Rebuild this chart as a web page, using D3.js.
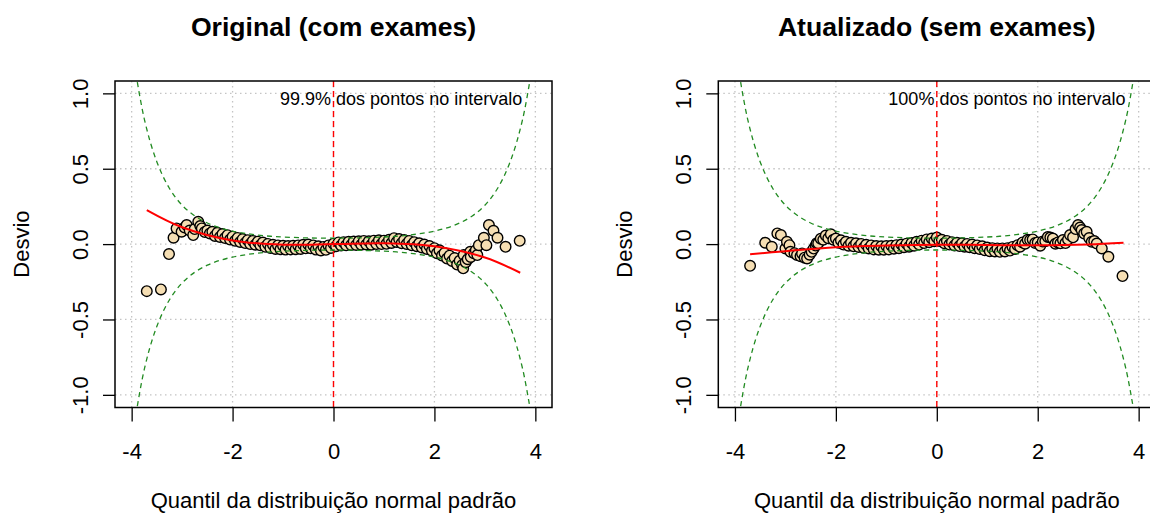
<!DOCTYPE html>
<html>
<head>
<meta charset="utf-8">
<script src="https://cdn.jsdelivr.net/npm/d3@7"></script>
<style>
  body { margin: 0; background: #fff; }
  text { font-family: "Liberation Sans", Arial, sans-serif; }
</style>
</head>
<body>
<svg id="vis" width="1150" height="516"></svg>
<script>
// ---- data ----
const xTicks = [-4, -2, 0, 2, 4];
const yTicks = [-1, -0.5, 0, 0.5, 1];
const titles = ['Original (com exames)', 'Atualizado (sem exames)'];
const notes = ['99.9% dos pontos no intervalo', '100% dos pontos no intervalo'];
const xLabel = 'Quantil da distribuição normal padrão';
const yLabel = 'Desvio';

// confidence band (upper edge; lower is the mirror)
const bandX = [-4.0, -3.75, -3.5, -3.25, -3.0, -2.75, -2.5, -2.25, -2.0, -1.75, -1.5, -1.25, -1.0, -0.5, 0,
  0.5, 1.0, 1.25, 1.5, 1.75, 2.0, 2.25, 2.5, 2.75, 3.0, 3.25, 3.5, 3.75, 4.0];
const bandUpper = [1.310, 0.831, 0.545, 0.369, 0.258, 0.187, 0.140, 0.108, 0.086, 0.071, 0.060, 0.052, 0.047, 0.041, 0.039,
  0.041, 0.047, 0.052, 0.060, 0.071, 0.086, 0.108, 0.140, 0.187, 0.258, 0.369, 0.545, 0.831, 1.310];

// fitted red curves
const fitX = [-3.7, -3, -2, -1, 0, 1, 2, 3, 3.7];
const fitOrig = [0.226, 0.112, 0.024, -0.004, 0, 0.006, -0.014, -0.089, -0.19];
const fitAtual = [-0.068, -0.047, -0.021, -0.01, -0.004, -0.006, -0.008, -0.002, 0.009];

// worm points [quantile, deviation]
const ptsOrig = [
  [-3.70, -0.312], [-3.42, -0.301], [-3.26, -0.066], [-3.17, 0.042], [-3.11, 0.104], [-3.01, 0.082],
  [-2.95, 0.110], [-2.91, 0.126], [-2.85, 0.090], [-2.78, 0.060], [-2.75, 0.100], [-2.68, 0.148],
  [-2.64, 0.120], [-2.61, 0.104], [-2.55, 0.080], [-2.50, 0.090], [-2.45, 0.071],
  [-2.40, 0.082], [-2.35, 0.054], [-2.30, 0.075], [-2.25, 0.047], [-2.20, 0.067], [-2.15, 0.040],
  [-2.10, 0.059], [-2.05, 0.030], [-2.00, 0.049], [-1.95, 0.022], [-1.90, 0.041], [-1.85, 0.014],
  [-1.80, 0.033], [-1.75, 0.007], [-1.70, 0.026], [-1.65, 0.000], [-1.60, 0.021], [-1.55, -0.004],
  [-1.50, 0.016], [-1.45, -0.008], [-1.40, 0.010], [-1.35, -0.018], [-1.30, 0.001], [-1.25, -0.026],
  [-1.20, -0.005], [-1.15, -0.032], [-1.10, -0.009], [-1.05, -0.034], [-1.00, -0.011], [-0.95, -0.036],
  [-0.90, -0.013], [-0.85, -0.035], [-0.80, -0.011], [-0.75, -0.034], [-0.70, -0.009], [-0.65, -0.032],
  [-0.60, -0.005], [-0.55, -0.028], [-0.50, -0.003], [-0.45, -0.028], [-0.40, -0.009], [-0.35, -0.036],
  [-0.30, -0.015], [-0.25, -0.042], [-0.20, -0.019], [-0.15, -0.038], [-0.10, -0.009], [-0.05, -0.026],
  [0.00, 0.003], [0.05, -0.014], [0.10, 0.011], [0.15, -0.010], [0.20, 0.013], [0.25, -0.008],
  [0.30, 0.015], [0.35, -0.006], [0.40, 0.017], [0.45, -0.006], [0.50, 0.019], [0.55, -0.004],
  [0.60, 0.021], [0.65, -0.002], [0.70, 0.019], [0.75, -0.004], [0.80, 0.023], [0.85, 0.000],
  [0.90, 0.025], [0.95, 0.000], [1.00, 0.023], [1.05, 0.002], [1.10, 0.029], [1.15, 0.008],
  [1.20, 0.039], [1.25, 0.014], [1.30, 0.033], [1.35, 0.006], [1.40, 0.027], [1.45, 0.000],
  [1.50, 0.021], [1.55, -0.008], [1.60, 0.013], [1.65, -0.014], [1.70, 0.005], [1.75, -0.022],
  [1.80, -0.003], [1.85, -0.032], [1.90, -0.013], [1.95, -0.044], [2.00, -0.027], [2.05, -0.060],
  [2.10, -0.041], [2.15, -0.076], [2.20, -0.059], [2.25, -0.096], [2.30, -0.077], [2.35, -0.112],
  [2.40, -0.093], [2.45, -0.136], [2.50, -0.111], [2.55, -0.140], [2.57, -0.161], [2.58, -0.073],
  [2.62, -0.120], [2.66, -0.100], [2.71, -0.051], [2.72, -0.085], [2.78, -0.060], [2.82, -0.040],
  [2.85, -0.073], [2.88, -0.007], [2.98, 0.042], [3.03, -0.007], [3.08, 0.126], [3.17, 0.088],
  [3.25, 0.042], [3.41, -0.018], [3.69, 0.022]
];

const ptsAtual = [
  [-3.70, -0.144], [-3.40, 0.009], [-3.27, -0.018], [-3.16, 0.071], [-3.09, 0.060], [-3.00, -0.029],
  [-2.97, 0.015], [-2.92, -0.007], [-2.90, -0.051], [-2.82, -0.060], [-2.77, -0.073], [-2.70, -0.080],
  [-2.67, -0.062], [-2.62, -0.090], [-2.57, -0.095], [-2.52, -0.070], [-2.48, -0.051], [-2.44, -0.030],
  [-2.40, -0.010], [-2.38, 0.005],
  [-2.35, 0.005], [-2.30, 0.035], [-2.25, 0.029], [-2.20, 0.057], [-2.15, 0.039], [-2.10, 0.065],
  [-2.05, 0.029], [-2.00, 0.037], [-1.95, 0.009], [-1.90, 0.025], [-1.85, -0.003], [-1.80, 0.015],
  [-1.75, -0.011], [-1.70, 0.009], [-1.65, -0.015], [-1.60, 0.005], [-1.55, -0.019], [-1.50, 0.001],
  [-1.45, -0.025], [-1.40, -0.005], [-1.35, -0.029], [-1.30, -0.009], [-1.25, -0.035], [-1.20, -0.013],
  [-1.15, -0.037], [-1.10, -0.015], [-1.05, -0.037], [-1.00, -0.013], [-0.95, -0.035], [-0.90, -0.011],
  [-0.85, -0.031], [-0.80, -0.007], [-0.75, -0.027], [-0.70, -0.003], [-0.65, -0.021], [-0.60, 0.003],
  [-0.55, -0.017], [-0.50, 0.007], [-0.45, -0.011], [-0.40, 0.015], [-0.35, -0.003], [-0.30, 0.023],
  [-0.25, 0.007], [-0.20, 0.031], [-0.15, 0.013], [-0.10, 0.037], [-0.05, 0.019], [0.00, 0.043],
  [0.05, 0.021], [0.10, 0.029], [0.15, 0.005], [0.20, 0.021], [0.25, -0.003], [0.30, 0.013],
  [0.35, -0.009], [0.40, 0.009], [0.45, -0.013], [0.50, 0.005], [0.55, -0.017], [0.60, 0.001],
  [0.65, -0.021], [0.70, -0.003], [0.75, -0.027], [0.80, -0.009], [0.85, -0.033], [0.90, -0.015],
  [0.95, -0.041], [1.00, -0.023], [1.05, -0.047], [1.10, -0.027], [1.15, -0.049], [1.20, -0.029],
  [1.25, -0.051], [1.30, -0.029], [1.35, -0.049], [1.40, -0.027], [1.45, -0.043], [1.50, -0.019],
  [1.55, -0.033], [1.60, -0.007], [1.65, -0.017], [1.70, 0.011], [1.75, 0.003], [1.80, 0.029],
  [1.85, 0.027], [1.90, 0.031], [1.95, 0.007], [2.00, 0.011], [2.05, -0.011], [2.10, 0.017],
  [2.15, 0.019], [2.20, 0.047], [2.25, 0.043], [2.30, 0.037], [2.35, 0.003], [2.40, 0.011],
  [2.45, 0.005], [2.50, 0.027], [2.55, 0.007], [2.60, 0.030], [2.64, 0.060], [2.70, 0.045],
  [2.75, 0.100], [2.80, 0.126], [2.84, 0.110], [2.87, 0.093], [2.92, 0.070], [2.97, 0.082],
  [3.02, 0.040], [3.07, 0.015], [3.12, 0.020], [3.17, 0.004], [3.27, -0.029], [3.40, -0.084],
  [3.68, -0.212]
];

// ---- layout ----
const boxTop = 81;
const boxBottom = 407.5;
const boxW = 437;
const baseFont = 22;

let svg = d3.select('#vis');
svg.append('rect').attr('width', 1150).attr('height', 516).attr('fill', '#fff');
let defs = svg.append('defs');

createPanel({ id: 'p1', left: 115, title: titles[0], note: notes[0], pts: ptsOrig, fit: fitOrig });
createPanel({ id: 'p2', left: 718.3, title: titles[1], note: notes[1], pts: ptsAtual, fit: fitAtual });

function createPanel(info) {
  let left = info.left;
  let x = d3.scaleLinear().domain([-4.33, 4.33]).range([left, left + boxW]);
  let y = d3.scaleLinear().domain([-1.084, 1.082]).range([boxBottom, boxTop]);
  let cx = (left + left + boxW) / 2;

  defs.append('clipPath').attr('id', `${info.id}-clip`)
    .append('rect')
    .attr('x', left).attr('y', boxTop)
    .attr('width', boxW).attr('height', boxBottom - boxTop);

  let g = svg.append('g');

  // grid
  let grid = g.append('g').attr('class', 'grid')
    .attr('stroke', '#c4c4c4').attr('stroke-width', 1.3).attr('stroke-dasharray', '1.5,3.5');
  grid.selectAll('.gx').data(xTicks).enter().append('line')
    .attr('x1', (d) => x(d)).attr('x2', (d) => x(d))
    .attr('y1', boxTop).attr('y2', boxBottom);
  grid.selectAll('.gy').data(yTicks).enter().append('line')
    .attr('x1', left).attr('x2', left + boxW)
    .attr('y1', (d) => y(d)).attr('y2', (d) => y(d));

  let inner = g.append('g').attr('clip-path', `url(#${info.id}-clip)`);

  // points
  inner.append('g').selectAll('circle')
    .data(info.pts)
    .enter().append('circle')
    .attr('cx', (d) => x(d[0]))
    .attr('cy', (d) => y(d[1]))
    .attr('r', 5.3)
    .attr('fill', '#f5deb3')
    .attr('stroke', '#000')
    .attr('stroke-width', 1.4);

  // band
  let band = bandX.map((v, i) => ({ q: v, u: bandUpper[i] }));
  let upperLine = d3.line().x((d) => x(d.q)).y((d) => y(d.u)).curve(d3.curveCatmullRom);
  let lowerLine = d3.line().x((d) => x(d.q)).y((d) => y(-d.u)).curve(d3.curveCatmullRom);
  [upperLine, lowerLine].forEach((ln) => {
    inner.append('path')
      .datum(band)
      .attr('d', ln)
      .attr('fill', 'none')
      .attr('stroke', '#228b22')
      .attr('stroke-width', 1.3)
      .attr('stroke-dasharray', '5,4');
  });

  // vertical reference at 0
  inner.append('line')
    .attr('x1', x(0)).attr('x2', x(0))
    .attr('y1', boxTop).attr('y2', boxBottom)
    .attr('stroke', '#ff0000')
    .attr('stroke-width', 1.4)
    .attr('stroke-dasharray', '6,4');

  // fitted curve
  let fitData = fitX.map((v, i) => ({ q: v, d: info.fit[i] }));
  inner.append('path')
    .datum(fitData)
    .attr('d', d3.line().x((d) => x(d.q)).y((d) => y(d.d)).curve(d3.curveCatmullRom))
    .attr('fill', 'none')
    .attr('stroke', '#ff0000')
    .attr('stroke-width', 2);

  // note
  g.append('text')
    .attr('x', x(3.74))
    .attr('y', y(0.92))
    .attr('text-anchor', 'end')
    .style('font-size', '18px')
    .text(info.note);

  // box
  g.append('rect')
    .attr('x', left).attr('y', boxTop)
    .attr('width', boxW).attr('height', boxBottom - boxTop)
    .attr('fill', 'none').attr('stroke', '#000').attr('stroke-width', 1.5);

  // axes
  let xAxis = g.append('g')
    .attr('transform', `translate(0,${boxBottom})`)
    .call(d3.axisBottom(x).tickValues(xTicks).tickSize(14).tickPadding(22).tickFormat((d) => String(d)));
  xAxis.select('.domain').remove();
  xAxis.selectAll('line').attr('stroke-width', 1.3);
  xAxis.selectAll('text')
    .attr('font-family', null)
    .style('font-size', baseFont + 'px')
    .attr('fill', '#000');

  let yAxis = g.append('g')
    .attr('transform', `translate(${left},0)`)
    .call(d3.axisLeft(y).tickValues(yTicks).tickSize(12).tickFormat((d) => d.toFixed(1)));
  yAxis.select('.domain').remove();
  yAxis.selectAll('line').attr('stroke-width', 1.3);
  yAxis.selectAll('text')
    .attr('x', null).attr('dy', null)
    .attr('transform', 'translate(-27,0) rotate(-90)')
    .attr('text-anchor', 'middle')
    .style('font-size', baseFont + 'px')
    .attr('fill', '#000');

  // titles and labels
  g.append('text')
    .attr('x', cx).attr('y', 36)
    .attr('text-anchor', 'middle')
    .style('font-size', '26.6px')
    .style('font-weight', 'bold')
    .text(info.title);

  g.append('text')
    .attr('x', cx).attr('y', 508)
    .attr('text-anchor', 'middle')
    .style('font-size', baseFont + 'px')
    .text(xLabel);

  g.append('text')
    .attr('transform', `translate(${left - 86},${y(0)}) rotate(-90)`)
    .attr('text-anchor', 'middle')
    .style('font-size', baseFont + 'px')
    .text(yLabel);
}
</script>
</body>
</html>
